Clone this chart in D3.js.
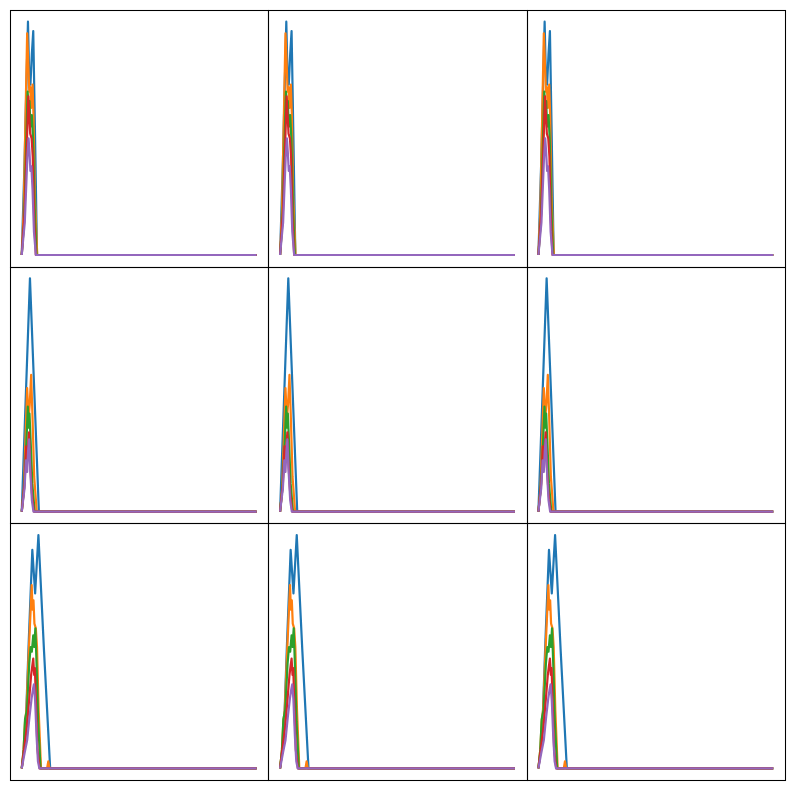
<!DOCTYPE html>
<html>
<head>
<meta charset="utf-8">
<script src="https://cdn.jsdelivr.net/npm/d3@7"></script>
<style>
  html, body { margin: 0; padding: 0; background: #fff; }
  svg { display: block; }
</style>
</head>
<body>
<svg id="chart" width="795" height="790"></svg>
<script>
// ---------- data ([x, value] pairs) ----------
const seriesColors = ["#1f77b4", "#ff7f0e", "#2ca02c", "#d62728", "#9467bd"];
const panelRows = [0, 1, 2];
const panelCols = [0, 1, 2];

// Row 1
const row1Blue   = [[0,0],[1.2,40],[2.65,100],[3.1,80],[3.7,73],[4.3,86],[4.9,96],[5.6,55],[6.5,0],[100,0]];
const row1Orange = [[0,0],[0.8,18],[2.3,95],[2.8,82],[3.2,70],[3.6,72],[4.0,63],[4.6,73],[5.0,60],[5.6,25],[6.6,0],[100,0]];
const row1Green  = [[0,0],[1.0,14],[2.5,70],[2.9,64],[3.3,66],[3.7,55],[4.3,60],[4.8,50],[5.5,20],[6.3,0],[100,0]];
const row1Red    = [[0,0],[1.2,18],[2.3,52],[2.8,68],[3.2,60],[3.6,52],[4.2,50],[4.7,42],[5.3,15],[6.0,0],[100,0]];
const row1Purple = [[0,0],[1.3,14],[2.4,42],[2.9,50],[3.3,44],[3.7,36],[4.1,38],[4.6,28],[5.2,10],[6.0,0],[100,0]];

// Row 2
const row2Blue   = [[0,0],[3.5,100],[7.3,0],[100,0]];
const row2Orange = [[0,0],[0.9,10],[2.3,53],[2.9,40],[3.4,46],[4.0,58.6],[4.6,40],[5.3,15],[6.4,0],[100,0]];
const row2Green  = [[0,0],[1.0,10],[2.0,30],[2.6,45],[2.9,36],[3.3,42],[3.8,30],[4.5,12],[5.5,0],[100,0]];
const row2Red    = [[0,0],[1.2,12],[1.9,28],[2.4,22],[2.8,30],[3.1,34],[3.6,20],[4.3,8],[5.2,0],[100,0]];
const row2Purple = [[0,0],[1.2,10],[1.8,22],[2.3,17],[2.7,26],[3.1,31],[3.6,18],[4.3,5],[5.0,0],[100,0]];

// Row 3
const row3Blue   = [[0,0],[1.5,12],[3.0,55],[4.5,93.6],[5.7,75],[7.1,100],[9.5,50],[12.1,0],[100,0]];
const row3Orange = [[0,0],[0.8,8],[1.4,20],[2.0,25],[3.0,50],[4.25,78.5],[4.6,68],[5.0,72],[5.4,62],[6.0,60],[6.5,52],[7.2,25],[8.2,0],[10.8,0],[11.3,3],[11.8,0],[100,0]];
const row3Green  = [[0,0],[0.8,8],[1.4,21],[2.2,25],[3.2,45],[3.8,52],[4.3,50],[4.9,57],[5.3,52],[5.8,60],[6.3,45],[7.0,20],[8.0,0],[100,0]];
const row3Red    = [[0,0],[1.2,10],[2.2,18],[3.2,30],[4.0,40],[4.5,44],[4.9,47],[5.3,40],[5.6,43],[6.0,30],[6.7,8],[7.6,0],[100,0]];
const row3Purple = [[0,0],[1.3,7],[2.3,12],[3.3,22],[4.2,30],[4.8,34],[5.2,36],[5.7,29],[6.3,14],[6.9,3],[7.5,0],[100,0]];

const rowSeries = [
  [row1Blue, row1Orange, row1Green, row1Red, row1Purple],
  [row2Blue, row2Orange, row2Green, row2Red, row2Purple],
  [row3Blue, row3Orange, row3Green, row3Red, row3Purple]
];

// ---------- layout ----------
const svg = d3.select("#chart");
const colBand = d3.scaleBand().domain(panelCols).range([10, 785]).paddingInner(0).paddingOuter(0);
const rowBand = d3.scaleBand().domain(panelRows).range([10, 780]).paddingInner(0).paddingOuter(0);

panelRows.forEach(r => {
  panelCols.forEach(c => {
    const series = rowSeries[r];
    const left = colBand(c), top = rowBand(r);
    const w = colBand.bandwidth(), h = rowBand.bandwidth();
    const allX = series.flat().map(d => d[0]);
    const allY = series.flat().map(d => d[1]);
    const [x0, x1] = d3.extent(allX), [y0, y1] = d3.extent(allY);
    const mx = (x1 - x0) * 0.05, my = (y1 - y0) * 0.05;
    const x = d3.scaleLinear().domain([x0 - mx, x1 + mx]).range([left, left + w]);
    const y = d3.scaleLinear().domain([y0 - my, y1 + my]).range([top + h, top]);

    const id = `clip-${r}-${c}`;
    svg.append("clipPath").attr("id", id)
      .append("rect").attr("x", left).attr("y", top).attr("width", w).attr("height", h);

    const g = svg.append("g").attr("clip-path", `url(#${id})`);
    const line = d3.line().x(d => x(d[0])).y(d => y(d[1]));
    series.forEach((s, i) => {
      g.append("path")
        .datum(s)
        .attr("d", line)
        .attr("fill", "none")
        .attr("stroke", seriesColors[i])
        .attr("stroke-width", 2.2)
        .attr("stroke-linejoin", "round")
        .attr("stroke-linecap", "butt");
    });

    svg.append("rect")
      .attr("x", Math.round(left) + 0.5).attr("y", Math.round(top) + 0.5)
      .attr("width", Math.round(left + w) - Math.round(left))
      .attr("height", Math.round(top + h) - Math.round(top))
      .attr("fill", "none").attr("stroke", "#000").attr("stroke-width", 1.07);
  });
});
</script>
</body>
</html>
